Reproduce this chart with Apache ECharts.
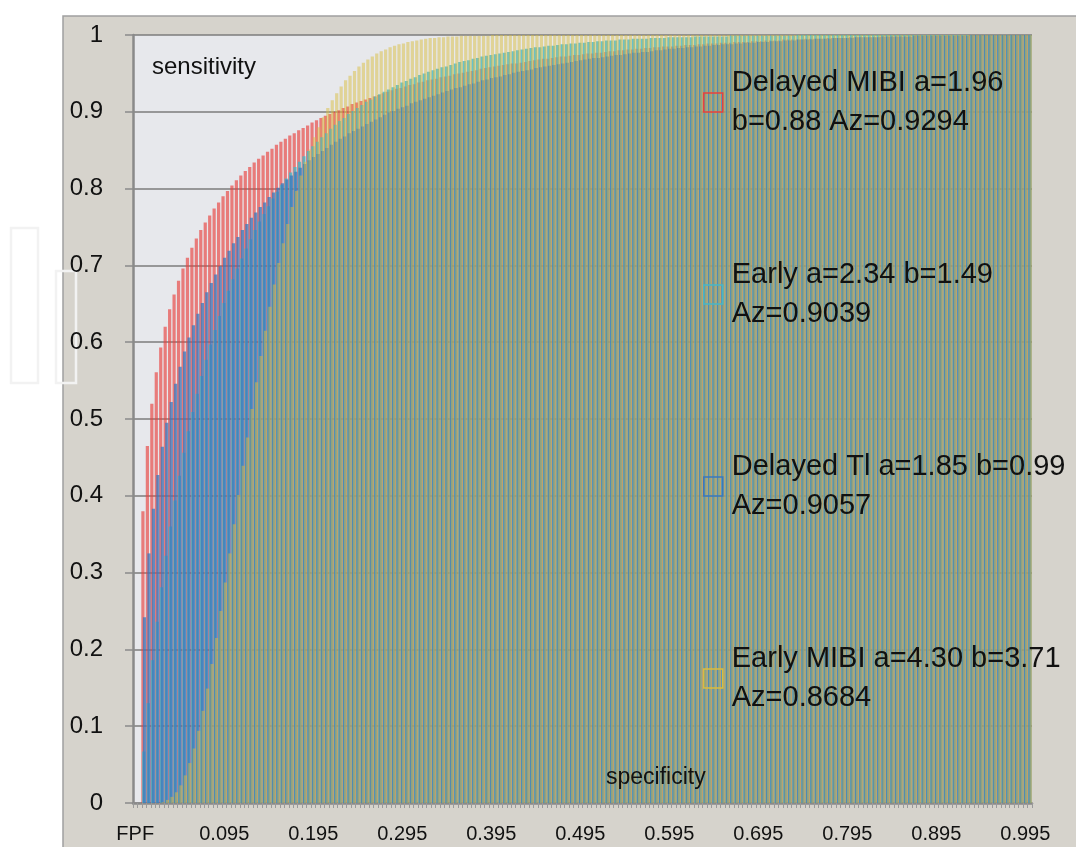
<!DOCTYPE html>
<html><head><meta charset="utf-8">
<script src="https://cdn.jsdelivr.net/npm/echarts@6/dist/echarts.min.js"></script>
<style>html,body{margin:0;padding:0;background:#fff}#chart{width:1076px;height:847px}</style>
</head><body><div id="chart"></div>
<script>
// x categories (FPF values), header cell "FPF" first
const categories = ['FPF','0',
'0.005','0.010','0.015','0.020','0.025','0.030','0.035','0.040','0.045','0.050',
'0.055','0.060','0.065','0.070','0.075','0.080','0.085','0.090','0.095','0.100',
'0.105','0.110','0.115','0.120','0.125','0.130','0.135','0.140','0.145','0.150',
'0.155','0.160','0.165','0.170','0.175','0.180','0.185','0.190','0.195','0.200',
'0.205','0.210','0.215','0.220','0.225','0.230','0.235','0.240','0.245','0.250',
'0.255','0.260','0.265','0.270','0.275','0.280','0.285','0.290','0.295','0.300',
'0.305','0.310','0.315','0.320','0.325','0.330','0.335','0.340','0.345','0.350',
'0.355','0.360','0.365','0.370','0.375','0.380','0.385','0.390','0.395','0.400',
'0.405','0.410','0.415','0.420','0.425','0.430','0.435','0.440','0.445','0.450',
'0.455','0.460','0.465','0.470','0.475','0.480','0.485','0.490','0.495','0.500',
'0.505','0.510','0.515','0.520','0.525','0.530','0.535','0.540','0.545','0.550',
'0.555','0.560','0.565','0.570','0.575','0.580','0.585','0.590','0.595','0.600',
'0.605','0.610','0.615','0.620','0.625','0.630','0.635','0.640','0.645','0.650',
'0.655','0.660','0.665','0.670','0.675','0.680','0.685','0.690','0.695','0.700',
'0.705','0.710','0.715','0.720','0.725','0.730','0.735','0.740','0.745','0.750',
'0.755','0.760','0.765','0.770','0.775','0.780','0.785','0.790','0.795','0.800',
'0.805','0.810','0.815','0.820','0.825','0.830','0.835','0.840','0.845','0.850',
'0.855','0.860','0.865','0.870','0.875','0.880','0.885','0.890','0.895','0.900',
'0.905','0.910','0.915','0.920','0.925','0.930','0.935','0.940','0.945','0.950',
'0.955','0.960','0.965','0.970','0.975','0.980','0.985','0.990','0.995','1'];

// every 20th category carries a tick label
const labelledCategories = ['FPF','0.095','0.195','0.295','0.395','0.495','0.595','0.695','0.795','0.895','0.995'];

const seriesNames = ['Delayed MIBI','Early','Delayed Tl','Early MIBI'];
const legendLabels = [
  'Delayed MIBI a=1.96\nb=0.88 Az=0.9294',
  'Early a=2.34 b=1.49\nAz=0.9039',
  'Delayed Tl a=1.85 b=0.99\nAz=0.9057',
  'Early MIBI a=4.30 b=3.71\nAz=0.8684'
];

// sensitivity (TPF) read per FPF category
const delayedMIBI = [null,0,
0.380,0.465,0.520,0.561,0.593,0.620,0.643,0.662,0.680,0.696,
0.710,0.723,0.735,0.746,0.756,0.765,0.774,0.782,0.790,0.797,
0.804,0.811,0.817,0.823,0.828,0.834,0.839,0.843,0.848,0.852,
0.857,0.861,0.865,0.869,0.872,0.876,0.879,0.882,0.886,0.889,
0.892,0.895,0.897,0.900,0.902,0.905,0.907,0.910,0.912,0.914,
0.916,0.918,0.920,0.922,0.924,0.926,0.928,0.930,0.931,0.933,
0.935,0.936,0.938,0.939,0.941,0.942,0.943,0.945,0.946,0.947,
0.949,0.950,0.951,0.952,0.953,0.954,0.956,0.957,0.958,0.959,
0.960,0.961,0.962,0.963,0.963,0.964,0.965,0.966,0.967,0.968,
0.969,0.969,0.970,0.971,0.972,0.972,0.973,0.974,0.974,0.975,
0.976,0.976,0.977,0.977,0.978,0.979,0.979,0.980,0.980,0.981,
0.981,0.982,0.982,0.983,0.983,0.984,0.984,0.985,0.985,0.985,
0.986,0.986,0.987,0.987,0.987,0.988,0.988,0.989,0.989,0.989,
0.990,0.990,0.990,0.991,0.991,0.991,0.991,0.992,0.992,0.992,
0.993,0.993,0.993,0.993,0.994,0.994,0.994,0.994,0.994,0.995,
0.995,0.995,0.995,0.995,0.996,0.996,0.996,0.996,0.996,0.997,
0.997,0.997,0.997,0.997,0.997,0.997,0.998,0.998,0.998,0.998,
0.998,0.998,0.998,0.998,0.999,0.999,0.999,0.999,0.999,0.999,
0.999,0.999,0.999,0.999,0.999,0.999,1.000,1.000,1.000,1.000,
1,1,1,1,1,1,1,1,1,1];

const earlyTc = [null,0,
0.067,0.130,0.186,0.236,0.281,0.322,0.360,0.394,0.426,0.456,
0.484,0.509,0.533,0.556,0.577,0.597,0.616,0.634,0.651,0.667,
0.682,0.696,0.709,0.722,0.734,0.746,0.757,0.767,0.777,0.787,
0.796,0.805,0.813,0.821,0.828,0.835,0.842,0.849,0.855,0.861,
0.867,0.872,0.878,0.883,0.888,0.892,0.897,0.901,0.905,0.909,
0.913,0.916,0.920,0.923,0.926,0.929,0.932,0.935,0.938,0.940,
0.943,0.945,0.948,0.950,0.952,0.954,0.956,0.958,0.959,0.961,
0.963,0.965,0.966,0.967,0.969,0.970,0.972,0.973,0.974,0.975,
0.976,0.977,0.978,0.979,0.980,0.981,0.982,0.983,0.984,0.984,
0.985,0.986,0.986,0.987,0.988,0.988,0.989,0.989,0.990,0.990,
0.991,0.991,0.992,0.992,0.993,0.993,0.993,0.994,0.994,0.994,
0.995,0.995,0.995,0.995,0.996,0.996,0.996,0.996,0.997,0.997,
0.997,0.997,0.997,0.997,0.998,0.998,0.998,0.998,0.998,0.998,
0.998,0.998,0.999,0.999,0.999,0.999,0.999,0.999,0.999,0.999,
0.999,0.999,0.999,0.999,0.999,0.999,0.999,1.000,1.000,1.000,
1,1,1,1,1,1,1,1,1,1,
1,1,1,1,1,1,1,1,1,1,
1,1,1,1,1,1,1,1,1,1,
1,1,1,1,1,1,1,1,1,1,
1,1,1,1,1,1,1,1,1,1];

const delayedTl = [null,0,
0.242,0.325,0.383,0.427,0.464,0.495,0.522,0.546,0.568,0.588,
0.606,0.622,0.637,0.651,0.665,0.677,0.688,0.699,0.710,0.719,
0.729,0.737,0.746,0.754,0.762,0.769,0.776,0.782,0.789,0.795,
0.801,0.807,0.812,0.817,0.822,0.827,0.832,0.837,0.841,0.845,
0.849,0.853,0.857,0.861,0.865,0.868,0.872,0.875,0.878,0.881,
0.884,0.887,0.890,0.893,0.896,0.899,0.901,0.904,0.906,0.908,
0.911,0.913,0.915,0.917,0.919,0.921,0.923,0.925,0.927,0.929,
0.931,0.932,0.934,0.936,0.937,0.939,0.941,0.942,0.944,0.945,
0.946,0.948,0.949,0.951,0.952,0.953,0.954,0.955,0.957,0.958,
0.959,0.960,0.961,0.962,0.963,0.964,0.965,0.966,0.967,0.968,
0.969,0.970,0.970,0.971,0.972,0.973,0.974,0.974,0.975,0.976,
0.977,0.977,0.978,0.978,0.979,0.980,0.980,0.981,0.982,0.982,
0.983,0.983,0.984,0.984,0.985,0.985,0.986,0.986,0.987,0.987,
0.988,0.988,0.988,0.989,0.989,0.990,0.990,0.990,0.991,0.991,
0.991,0.992,0.992,0.992,0.993,0.993,0.993,0.994,0.994,0.994,
0.994,0.995,0.995,0.995,0.995,0.996,0.996,0.996,0.996,0.996,
0.997,0.997,0.997,0.997,0.997,0.997,0.998,0.998,0.998,0.998,
0.998,0.998,0.998,0.999,0.999,0.999,0.999,0.999,0.999,0.999,
0.999,0.999,0.999,0.999,0.999,0.999,1.000,1.000,1.000,1.000,
1,1,1,1,1,1,1,1,1,1];

const earlyMIBI = [null,0,
0,0,0,0,0.001,0.004,0.008,0.014,0.023,0.036,
0.052,0.071,0.094,0.120,0.149,0.181,0.215,0.250,0.287,0.325,
0.363,0.401,0.439,0.476,0.513,0.548,0.582,0.615,0.646,0.675,
0.703,0.729,0.754,0.776,0.797,0.817,0.835,0.851,0.867,0.880,
0.893,0.905,0.915,0.924,0.933,0.941,0.947,0.953,0.959,0.964,
0.968,0.972,0.976,0.979,0.981,0.984,0.986,0.988,0.989,0.991,
0.992,0.993,0.994,0.995,0.996,0.996,0.997,0.997,0.998,0.998,
0.998,0.999,0.999,0.999,0.999,0.999,0.999,0.999,1.000,1.000,
1,1,1,1,1,1,1,1,1,1,
1,1,1,1,1,1,1,1,1,1,
1,1,1,1,1,1,1,1,1,1,
1,1,1,1,1,1,1,1,1,1,
1,1,1,1,1,1,1,1,1,1,
1,1,1,1,1,1,1,1,1,1,
1,1,1,1,1,1,1,1,1,1,
1,1,1,1,1,1,1,1,1,1,
1,1,1,1,1,1,1,1,1,1,
1,1,1,1,1,1,1,1,1,1,
1,1,1,1,1,1,1,1,1,1,
1,1,1,1,1,1,1,1,1,1];

const seriesData = [delayedMIBI, earlyTc, delayedTl, earlyMIBI];
const seriesColors = ['#e8413e', '#48b6c6', '#3a78bd', '#d9bd3f'];
const seriesOpacity = [0.65, 0.8, 0.75, 0.5];

const FONT = 'Liberation Sans';
const chart = echarts.init(document.getElementById('chart'), null, {renderer: 'canvas'});

chart.setOption({
  animation: false,
  backgroundColor: '#ffffff',
  grid: {left: 133, right: 44, top: 35, bottom: 44, containLabel: false, outerBoundsMode: 'none',
         show: true, backgroundColor: '#e7e8ec', borderWidth: 0},
  xAxis: {
    type: 'category', data: categories, boundaryGap: true,
    axisLine: {show: true, lineStyle: {color: '#8a8a8a', width: 2.5}},
    axisTick: {show: true, interval: 0, length: 5, lineStyle: {color: '#9a9a9a', width: 1}},
    axisLabel: {
      interval: function (index, value) { return labelledCategories.indexOf(value) >= 0; },
      hideOverlap: false,
      fontSize: 20, fontFamily: FONT, color: '#111', margin: 21
    },
    splitLine: {show: false}
  },
  yAxis: {
    type: 'value', min: 0, max: 1, interval: 0.1,
    axisLine: {show: true, lineStyle: {color: '#8a8a8a', width: 2.5}},
    axisTick: {show: true, length: 8, lineStyle: {color: '#8a8a8a', width: 1.5}},
    axisLabel: {fontSize: 24, fontFamily: FONT, color: '#111', margin: 30},
    splitLine: {show: true, lineStyle: {color: '#7d7d7d', width: 1.5}}
  },
  legend: {
    orient: 'vertical', left: 703, top: 44, padding: 0,
    itemWidth: 19, itemHeight: 19, itemGap: 75, icon: 'rect', selectedMode: false,
    textStyle: {fontSize: 29, fontFamily: FONT, color: '#111', lineHeight: 39, padding: [39, 0, 0, 4]},
    formatter: function (name) { return legendLabels[seriesNames.indexOf(name)]; },
    data: seriesNames.map(function (n, i) {
      return {name: n, icon: 'rect',
        itemStyle: {color: 'rgba(0,0,0,0)', borderColor: seriesColors[i], borderWidth: 1.5, opacity: 1}};
    })
  },
  graphic: {elements: [
    {type: 'rect', z: -10, silent: true, shape: {x: 63, y: 16, width: 1020, height: 840},
     style: {fill: '#d6d3cc', stroke: '#a0a0a0', lineWidth: 1.5}},
    {type: 'rect', z: -10, silent: true, shape: {x: 11, y: 228, width: 27, height: 155},
     style: {fill: 'none', stroke: '#f2f2f2', lineWidth: 2.5}},
    {type: 'rect', z: -10, silent: true, shape: {x: 56, y: 271, width: 20, height: 112},
     style: {fill: 'none', stroke: '#f2f2f2', lineWidth: 2.5}},
    {type: 'text', z: 100, silent: true, x: 152, y: 67,
     style: {text: 'sensitivity', font: '24px "Liberation Sans"', fill: '#111', verticalAlign: 'middle', align: 'left'}},
    {type: 'text', z: 100, silent: true, x: 606, y: 778,
     style: {text: 'specificity', font: '23px "Liberation Sans"', fill: '#111', verticalAlign: 'middle', align: 'left'}}
  ]},
  series: seriesNames.map(function (n, i) {
    return {
      type: 'bar', name: n, data: seriesData[i],
      barWidth: 3.2, barGap: '-75%',
      itemStyle: {color: seriesColors[i], opacity: seriesOpacity[i]},
      emphasis: {disabled: true}, silent: true
    };
  })
});
</script></body></html>
